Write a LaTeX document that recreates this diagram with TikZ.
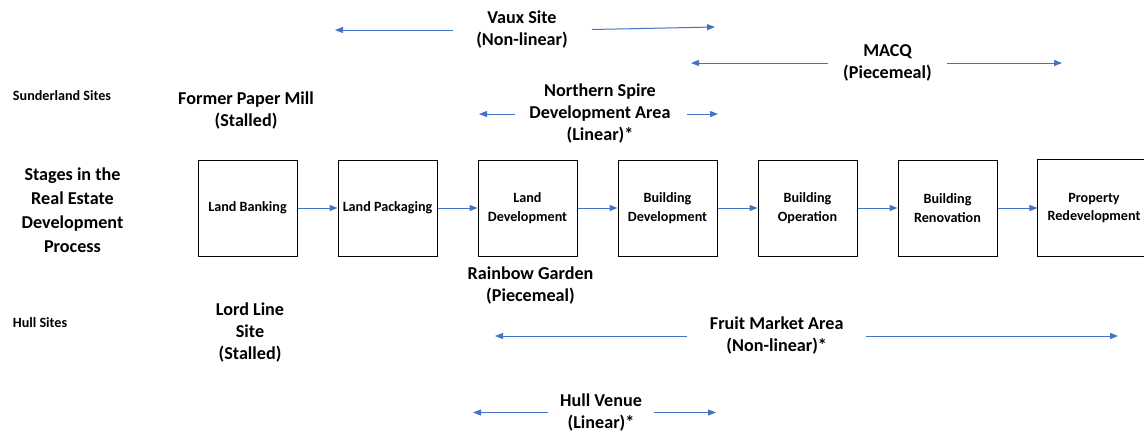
\documentclass[tikz,border=0pt]{standalone}
\usepackage{fontspec}
\setmainfont{Carlito}
\usepackage{tikz}
\usetikzlibrary{arrows.meta}
\definecolor{officeblue}{HTML}{4472C4}

\begin{document}
\begin{tikzpicture}[x=0.75pt,y=0.75pt,yscale=-1,xscale=1,
  stagebox/.style={draw=black,line width=0.75pt,minimum width=74.25pt,minimum height=72pt,inner sep=1pt,align=center,font=\fontsize{10.6}{14.2}\selectfont\bfseries},
  sitelabel/.style={inner sep=0pt,align=center,font=\fontsize{13.6}{16.5}\selectfont\bfseries},
  rowlabel/.style={inner sep=0pt,align=left,font=\fontsize{10.6}{14.2}\selectfont\bfseries},
  stagearrow/.style={draw=officeblue,line width=0.75pt,-{Triangle[length=6pt,width=4.5pt]}},
  rangearrow/.style={stagearrow}]
\useasboundingbox (0,0) rectangle (1144,432);

% Text Node
\draw (62,96) node (sunderland) [rowlabel] {Sunderland Sites};
% Text Node
\draw (40,323) node (hull) [rowlabel] {Hull Sites};
% Text Node
\draw (72.5,210) node (stages) [sitelabel,font=\fontsize{13.6}{18}\selectfont\bfseries] {Stages in the\\Real Estate\\Development\\Process};

% Stage boxes
\draw (247.5,208) node (banking) [stagebox] {Land Banking};
\draw (387.5,208) node (packaging) [stagebox] {Land Packaging};
\draw (527.5,208) node (landdev) [stagebox] {Land\\Development};
\draw (667.5,208) node (builddev) [stagebox] {Building\\Development};
\draw (807.5,208) node (operation) [stagebox] {Building\\Operation};
\draw (947.5,208) node (renovation) [stagebox] {Building\\Renovation};
\draw (1094,208) node (redev) [stagebox,draw=none] {Property\\Redevelopment};
% last box runs off the page
\draw [line width=0.75pt] ([xshift=-4.9pt]redev.south west) rectangle ([xshift=30pt]redev.north east);

% Connection
\draw [stagearrow] (banking) -- (packaging);
% Connection
\draw [stagearrow] (packaging) -- (landdev);
% Connection
\draw [stagearrow] (landdev) -- (builddev);
% Connection
\draw [stagearrow] (builddev) -- (operation);
% Connection
\draw [stagearrow] (operation) -- (renovation);
% Connection
\draw [stagearrow,shorten >=4.9pt] (renovation) -- (redev);

% Text Node
\draw (246,110.5) node (papermill) [sitelabel] {Former Paper Mill\\(Stalled)};
% Text Node
\draw (522,30) node (vaux) [sitelabel] {Vaux Site\\(Non-linear)};
% Text Node
\draw (600,114) node (spire) [sitelabel] {Northern Spire\\Development Area\\(Linear)*};
% Text Node
\draw (887.5,63) node (macq) [sitelabel] {MACQ\\(Piecemeal)};
% Text Node
\draw (530.5,286) node (rainbow) [sitelabel] {Rainbow Garden\\(Piecemeal)};
% Text Node
\draw (250,333) node (lordline) [sitelabel] {Lord Line\\Site\\(Stalled)};
% Text Node
\draw (776.7,336) node (fruit) [sitelabel] {Fruit Market Area\\(Non-linear)*};
% Text Node
\draw (601,412.5) node (venue) [sitelabel] {Hull Venue\\(Linear)*};

\coordinate (vaux-l) at (335,30);
\coordinate (vaux-r) at (715,27);
\coordinate (spire-l) at (479,114);
\coordinate (spire-r) at (718,114);
\coordinate (macq-l) at (691,63);
\coordinate (macq-r) at (1062,63);
\coordinate (fruit-l) at (495,336);
\coordinate (fruit-r) at (1118,336);
\coordinate (venue-l) at (473,412.5);
\coordinate (venue-r) at (716,412.5);

% Connection
\draw [rangearrow,shorten <=17pt] (vaux.west) -- (vaux-l);
\draw [rangearrow,shorten <=18pt] (vaux.east) -- (vaux-r);
% Connection
\draw [rangearrow,shorten <=11pt] (spire.west) -- (spire-l);
\draw [rangearrow,shorten <=12pt] (spire.east) -- (spire-r);
% Connection
\draw [rangearrow,shorten <=11pt] (macq.west) -- (macq-l);
\draw [rangearrow,shorten <=11pt] (macq.east) -- (macq-r);
% Connection
\draw [rangearrow,shorten <=17pt] (fruit.west) -- (fruit-l);
\draw [rangearrow,shorten <=16.5pt] (fruit.east) -- (fruit-r);
% Connection
\draw [rangearrow,shorten <=9pt] (venue.west) -- (venue-l);
\draw [rangearrow,shorten <=9pt] (venue.east) -- (venue-r);

\end{tikzpicture}
\end{document}
